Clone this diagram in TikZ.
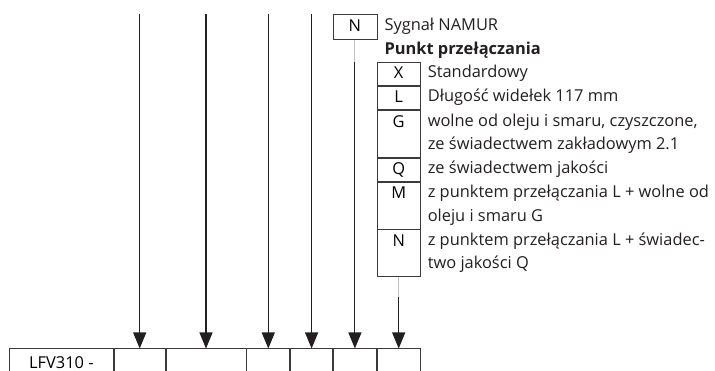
\documentclass[tikz,border=0pt]{standalone}
\usepackage{fontspec}
\setmainfont{Open Sans}
\usetikzlibrary{arrows.meta,calc}
\definecolor{ink}{HTML}{231F20}
\definecolor{boxline}{HTML}{3A3A3A}
\definecolor{faint}{HTML}{C0C0C0}
\begin{document}
\begin{tikzpicture}[x=1pt,y=-1pt,
  font=\fontsize{16.4}{19}\selectfont,
  arr/.style={draw=ink, line width=1.1pt, -{Triangle[width=13pt,length=16pt]}},
  codebox/.style={draw=boxline, line width=0.8pt, minimum width=43pt, inner sep=0pt,
    anchor=north, text height=16.7pt, text depth=6.7pt},
  codeboxtwo/.style={codebox, text depth=30.1pt},
  cell/.style={draw=boxline, line width=0.8pt, anchor=north west, inner sep=0pt,
    text height=19.5pt, text depth=20.5pt},
  desc/.style={anchor=base west, inner sep=0pt, text=ink},
  connector/.style={draw=faint, line width=1pt},
]
\useasboundingbox (0,0) rectangle (715,371);
\clip (0,0) rectangle (715,371);
% order code table
\node[cell, minimum width=104pt] (c0) at (9,348.5) {LFV310 -};
\node[cell, minimum width=51pt]  (c1) at (c0.north east) {};
\node[cell, minimum width=80pt]  (c2) at (c1.north east) {};
\node[cell, minimum width=43pt]  (c3) at (c2.north east) {};
\node[cell, minimum width=42pt]  (c4) at (c3.north east) {};
\node[cell, minimum width=43pt]  (c5) at (c4.north east) {};
\node[cell, minimum width=43pt]  (c6) at (c5.north east) {};
% NAMUR box
\node[codebox, minimum width=44pt, text height=17pt, text depth=8pt] (nbox) at (c5.north |- 0,14) {N};
\node[desc] (nsig) at ($(nbox.north east)+(7,17)$) {Sygnał NAMUR};
\node[desc] (ptitle) at ($(nbox.north east)+(7,40.4)$) {\bfseries Punkt przełączania};
% switching point codes
\node[codebox] (cX) at (c6.north |- 0,61.6) {X};
\node[codebox] (cL) at (cX.south) {L};
\node[codeboxtwo] (cG) at (cL.south) {G};
\node[codebox] (cQ) at (cG.south) {Q};
\node[codeboxtwo] (cM) at (cQ.south) {M};
\node[codeboxtwo] (cN) at (cM.south) {N};
\node[desc] (dX) at ($(cX.north east)+(7,16.2)$) {Standardowy};
\node[desc] (dL) at ($(cL.north east)+(7,16.2)$) {Długość widełek 117 mm};
\node[desc] (dGa) at ($(cG.north east)+(7,16.2)$) {wolne od oleju i smaru, czyszczone,};
\node[desc] (dGb) at ($(cG.north east)+(7,39.6)$) {ze świadectwem zakładowym 2.1};
\node[desc] (dQ) at ($(cQ.north east)+(7,16.2)$) {ze świadectwem jakości};
\node[desc] (dMa) at ($(cM.north east)+(7,16.2)$) {z punktem przełączania L + wolne od};
\node[desc] (dMb) at ($(cM.north east)+(7,39.6)$) {oleju i smaru G};
\node[desc] (dNa) at ($(cN.north east)+(7,16.2)$) {z punktem przełączania L + świadec-};
\node[desc] (dNb) at ($(cN.north east)+(7,39.6)$) {two jakości Q};
% arrow starts
\coordinate (t1) at (c1.north |- nbox.north);
\coordinate (t2) at (c2.north |- nbox.north);
\coordinate (t3) at (c3.north |- nbox.north);
\coordinate (t4) at (c4.north |- nbox.north);
\coordinate (j1) at (nbox.south |- cX.north);
\coordinate (j2) at ($(cN.south)+(0,20)$);
\draw[arr] (t1) -- (c1.north);
\draw[arr] (t2) -- (c2.north);
\draw[arr] (t3) -- (c3.north);
\draw[arr] (t4) -- (c4.north);
\draw[connector] (nbox.south) -- (j1);
\draw[arr] (j1) -- (c5.north);
\draw[connector] (cN.south) -- (j2);
\draw[arr] (j2) -- (c6.north);
\end{tikzpicture}
\end{document}
